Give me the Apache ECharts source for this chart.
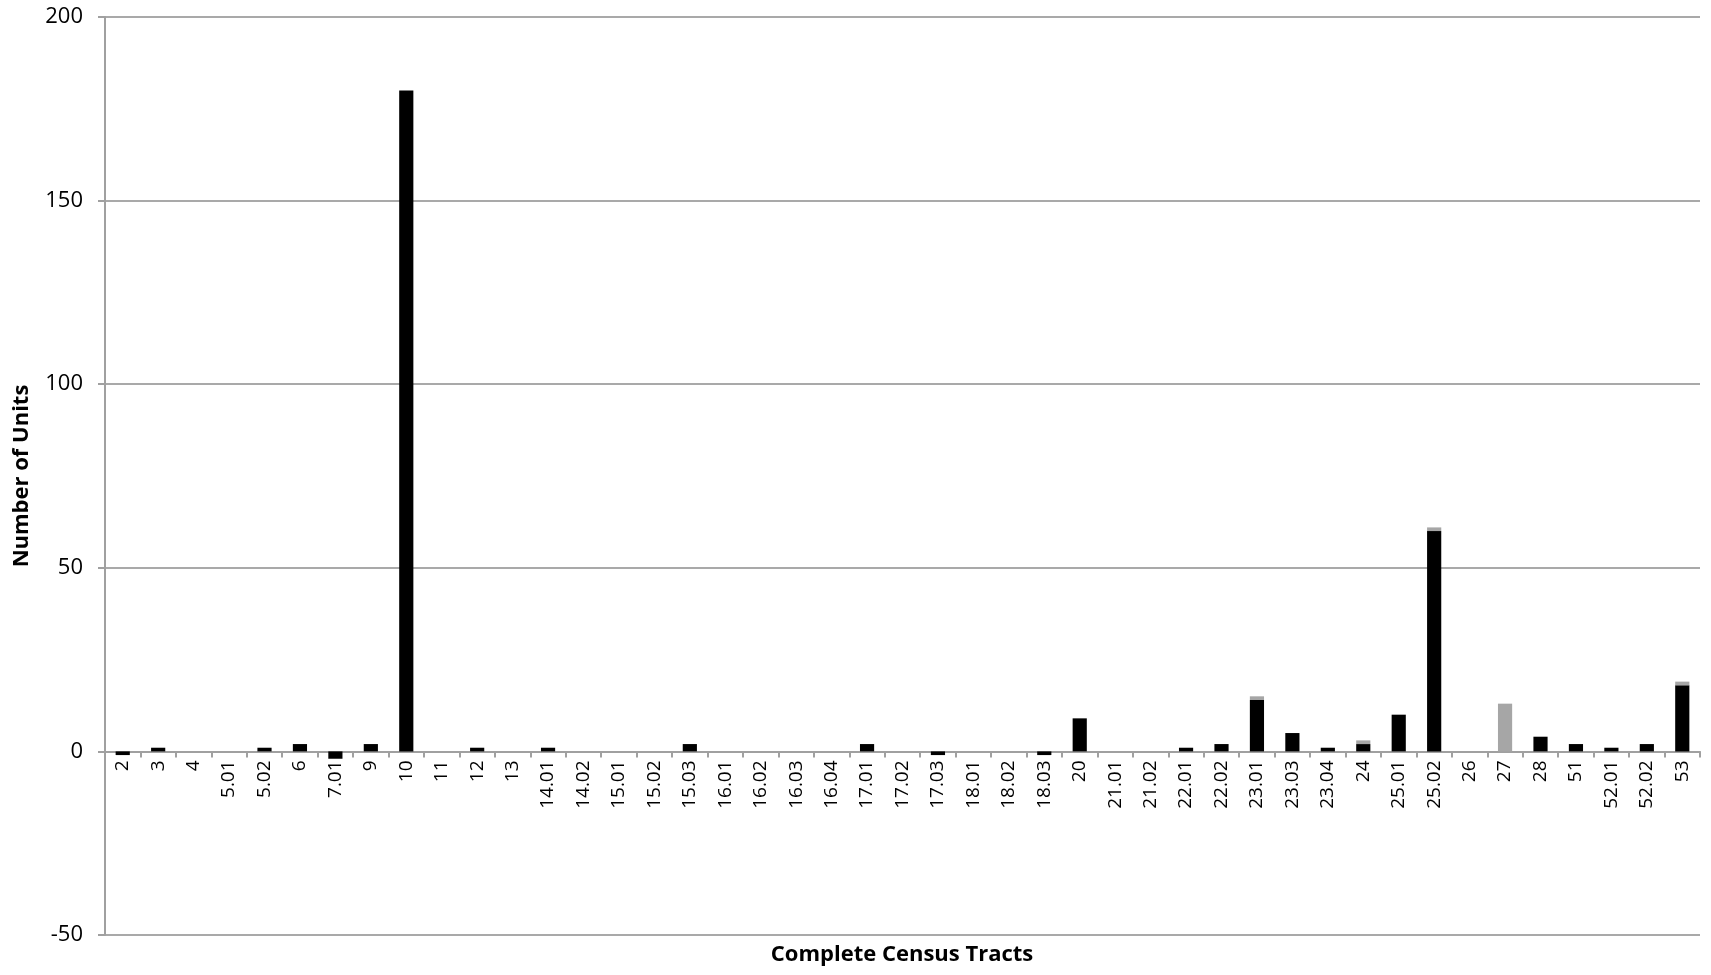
<!DOCTYPE html>
<html>
<head>
<meta charset="utf-8">
<script src="https://cdn.jsdelivr.net/npm/echarts@6/dist/echarts.min.js"></script>
<style>
html,body{margin:0;padding:0;background:#fff;}
#chart{width:1711px;height:975px;}
</style>
</head>
<body>
<div id="chart"></div>
<script>
const categories = ['2','3','4','5.01','5.02','6','7.01','9','10','11','12','13','14.01','14.02','15.01','15.02','15.03','16.01','16.02','16.03','16.04','17.01','17.02','17.03','18.01','18.02','18.03','20','21.01','21.02','22.01','22.02','23.01','23.03','23.04','24','25.01','25.02','26','27','28','51','52.01','52.02','53'];
const blackValues = [-1,1,0,0,1,2,-2,2,180,0,1,0,1,0,0,0,2,0,0,0,0,2,0,-1,0,0,-1,9,0,0,1,2,14,5,1,2,10,60,0,0,4,2,1,2,18];
const grayValues  = [0,0,0,0,0,0,0,0,0,0,0,0,0,0,0,0,0,0,0,0,0,0,0,0,0,0,0,0,0,0,0,0,1,0,0,1,0,1,0,13,0,0,0,0,1];
const yTicks = {min:-50, max:200, interval:50};
const xTitle = 'Complete Census Tracts';
const yTitle = 'Number of Units';

const FONT = 'Open Sans';
const GRID_TOP = 17, GRID_BOTTOM = 40, H = 975;
const plotH = H - GRID_TOP - GRID_BOTTOM;
const zeroOffset = -plotH * (0 - yTicks.min) / (yTicks.max - yTicks.min);

const chart = echarts.init(document.getElementById('chart'), null, {renderer:'canvas'});
chart.setOption({
  animation:false,
  backgroundColor:'#fff',
  textStyle:{fontFamily:FONT},
  grid:{left:105, right:11, top:GRID_TOP, bottom:GRID_BOTTOM, containLabel:false},
  xAxis:{
    type:'category',
    data:categories,
    boundaryGap:true,
    offset:zeroOffset,
    axisLine:{onZero:false, lineStyle:{color:'#a0a0a0', width:2}},
    axisTick:{show:true, length:6, alignWithLabel:false, lineStyle:{color:'#a0a0a0', width:2}},
    axisLabel:{rotate:90, interval:0, color:'#000', fontSize:19, margin:9, fontFamily:FONT},
    splitLine:{show:false}
  },
  yAxis:{
    type:'value',
    min:yTicks.min, max:yTicks.max, interval:yTicks.interval,
    name:yTitle,
    nameLocation:'middle',
    nameGap:72,
    nameTextStyle:{fontSize:22, fontWeight:'bold', color:'#000', fontFamily:FONT},
    axisLine:{show:true, lineStyle:{color:'#a0a0a0', width:2}},
    axisTick:{show:true, length:7, lineStyle:{color:'#a0a0a0', width:2}},
    axisLabel:{color:'#000', fontSize:22, margin:22, fontFamily:FONT},
    splitLine:{show:true, lineStyle:{color:'#8c8c8c', width:1.5}}
  },
  graphic:[{
    type:'text',
    x:902,
    y:944,
    style:{text:xTitle, font:'bold 22px "Open Sans"', fill:'#000', textAlign:'center', textVerticalAlign:'top'}
  }],
  series:[
    {name:'a', type:'bar', stack:'s', data:blackValues, barWidth:'40%', itemStyle:{color:'#000'}},
    {name:'b', type:'bar', stack:'s', data:grayValues, barWidth:'40%', itemStyle:{color:'#a6a6a6'}}
  ]
});
</script>
</body>
</html>
